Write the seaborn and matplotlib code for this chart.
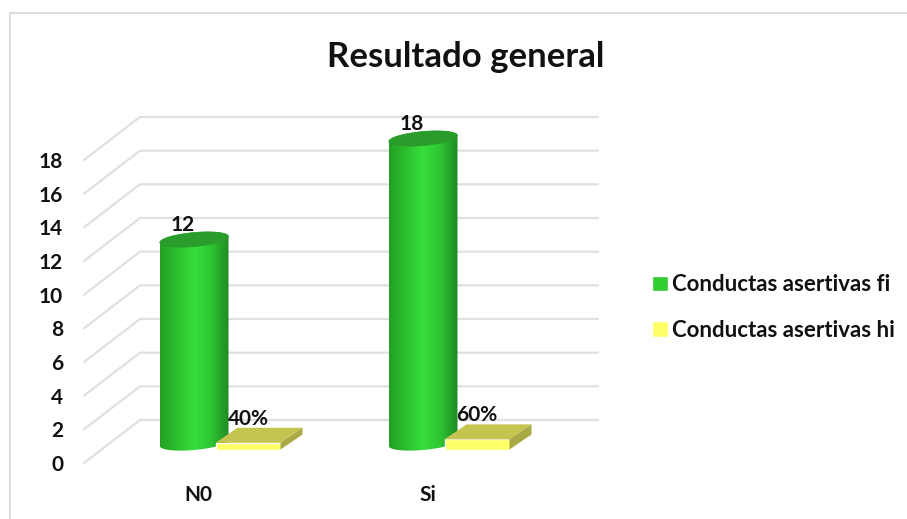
import numpy as np
import pandas as pd
import matplotlib
matplotlib.use("Agg")
import matplotlib.pyplot as plt
import seaborn as sns
from matplotlib.colors import LinearSegmentedColormap
from matplotlib.lines import Line2D
from matplotlib.path import Path
from matplotlib.transforms import Affine2D

# Values
categorias = ["N0", "Si"]
fi_valores = [12, 18]
hi_valores = [0.4, 0.6]
hi_etiquetas = ["40%", "60%"]
serie_fi = "Conductas asertivas fi"
serie_hi = "Conductas asertivas hi"
y_ticks = [0, 2, 4, 6, 8, 10, 12, 14, 16, 18]

W, H = 907, 519
PX_X = 229.0     # pixels per category
PX_Y = 303 / 18  # pixels per y unit

sns.set_theme(style="white")
plt.rcParams["font.family"] = ["Lato", "DejaVu Sans"]
plt.rcParams["font.weight"] = "bold"
plt.rcParams["text.color"] = "#111111"

df = pd.DataFrame({
    "categoria": categorias * 2,
    "serie": [serie_fi] * 2 + [serie_hi] * 2,
    "valor": fi_valores + hi_valores,
})

fig = plt.figure(figsize=(W / 100, H / 100), dpi=100)
ax = fig.add_axes([84 / W, (H - 463) / H, 458 / W, 303 / H])

sns.barplot(data=df, x="categoria", y="valor", hue="serie", width=0.6, ax=ax,
            palette=["#33CC33", "#FFFF66"], saturation=1, errorbar=None, zorder=3)

# back wall grid and the diagonals coming to the front
depth_x, depth_y = 56 / PX_X, 43 / PX_Y
for v in y_ticks:
    ax.plot([-0.5, -0.5 + depth_x, 1.5 + depth_x], [v, v + depth_y, v + depth_y],
            color="#E0E0E0", lw=1.6, zorder=1, clip_on=False, solid_joinstyle="miter")

grad = LinearSegmentedColormap.from_list(
    "cilindro", ["#22A024", "#2DC02F", "#37DE3B", "#2EC431", "#1D8A24"])
tr_verde = ax.transData + Affine2D().translate(30, 20)
tr_amarillo = ax.transData + Affine2D().translate(17, 13.5)

# green bars become cylinders
t = np.linspace(0, 2 * np.pi, 81)
for bar, valor in zip(ax.containers[0], fi_valores):
    bar.set_visible(False)
    cx = bar.get_x() + bar.get_width() / 2
    a = bar.get_width() / 2
    b = 7.0 / PX_Y
    k = 3.0 / PX_Y   # tilt of the ellipse
    ex, ey = cx + a * np.cos(t), b * np.sin(t) + k * np.cos(t)
    arriba = t <= np.pi
    abajo = t >= np.pi
    contorno = np.column_stack([np.r_[ex[abajo], ex[arriba]],
                                np.r_[ey[abajo], valor + 1.5 / PX_Y + ey[arriba]]])
    img = ax.imshow(np.linspace(0, 1, 256)[None, :], extent=(cx - a, cx + a, -1, valor + 1),
                    aspect="auto", cmap=grad, transform=tr_verde, zorder=4,
                    interpolation="bilinear")
    img.set_clip_box(fig.bbox)
    img.set_clip_path(Path(contorno, closed=False), tr_verde)
    ax.fill(ex, valor + 1.5 / PX_Y + ey, color="#2A9C2B", transform=tr_verde, zorder=5,
            clip_on=False, lw=0.5)
    ax.annotate(str(valor), (cx, valor), xycoords=tr_verde, xytext=(-11, 16),
                textcoords="offset pixels", ha="center", va="center", fontsize=15,
                fontweight="bold", zorder=8, annotation_clip=False)

# yellow bars: thin boxes, top and side faces added in the bar's depth
dx, dy = 22 / PX_X, 15 / PX_Y
for bar, valor, etiqueta in zip(ax.containers[1], hi_valores, hi_etiquetas):
    bar.set_width(65 / PX_X)
    bar.set_transform(tr_amarillo)
    bar.set_zorder(7)
    bar.set_clip_on(False)
    x0, x1 = bar.get_x(), bar.get_x() + bar.get_width()
    ax.fill([x0, x1, x1 + dx, x0 + dx], [valor, valor, valor + dy, valor + dy],
            color="#C4C450", transform=tr_amarillo, zorder=7, clip_on=False, lw=0)
    ax.fill([x1, x1 + dx, x1 + dx, x1], [0, dy, valor + dy, valor],
            color="#A8A845", transform=tr_amarillo, zorder=7, clip_on=False, lw=0)
    ax.annotate(etiqueta, ((x0 + x1) / 2, valor), xycoords=tr_amarillo, xytext=(0, 24),
                textcoords="offset pixels", ha="center", va="center", fontsize=15,
                fontweight="bold", zorder=8, annotation_clip=False)

ax.set_xlim(-0.5, 1.5)
ax.set_ylim(0, 18)
ax.set_yticks(y_ticks)
ax.set_xlabel("")
ax.set_ylabel("")
ax.tick_params(axis="y", length=0, pad=15, labelsize=15)
ax.tick_params(axis="x", length=0, pad=16, labelsize=15)
for lab in ax.get_xticklabels() + ax.get_yticklabels():
    lab.set_fontweight("bold")
    lab.set_color("#111111")
sns.despine(ax=ax, left=True, bottom=True)
ax.patch.set_alpha(0)

sns.move_legend(ax, "center left", bbox_to_anchor=(632 / W, (H - 307.5) / H),
                bbox_transform=fig.transFigure, title=None, frameon=False,
                fontsize=16, handlelength=0.7, handleheight=0.7,
                handletextpad=0.2, labelspacing=1.1)

fig.text(466 / W, (H - 57) / H, "Resultado general", ha="center", va="center",
         fontsize=25, fontweight="bold")

# outer frame of the pasted chart
fig.add_artist(Line2D([9.5 / W, 9.5 / W, 1], [0, (H - 12.5) / H, (H - 12.5) / H],
                      color="#D9D9D9", lw=1.3, transform=fig.transFigure))

fig.savefig("out.png", dpi=100)
